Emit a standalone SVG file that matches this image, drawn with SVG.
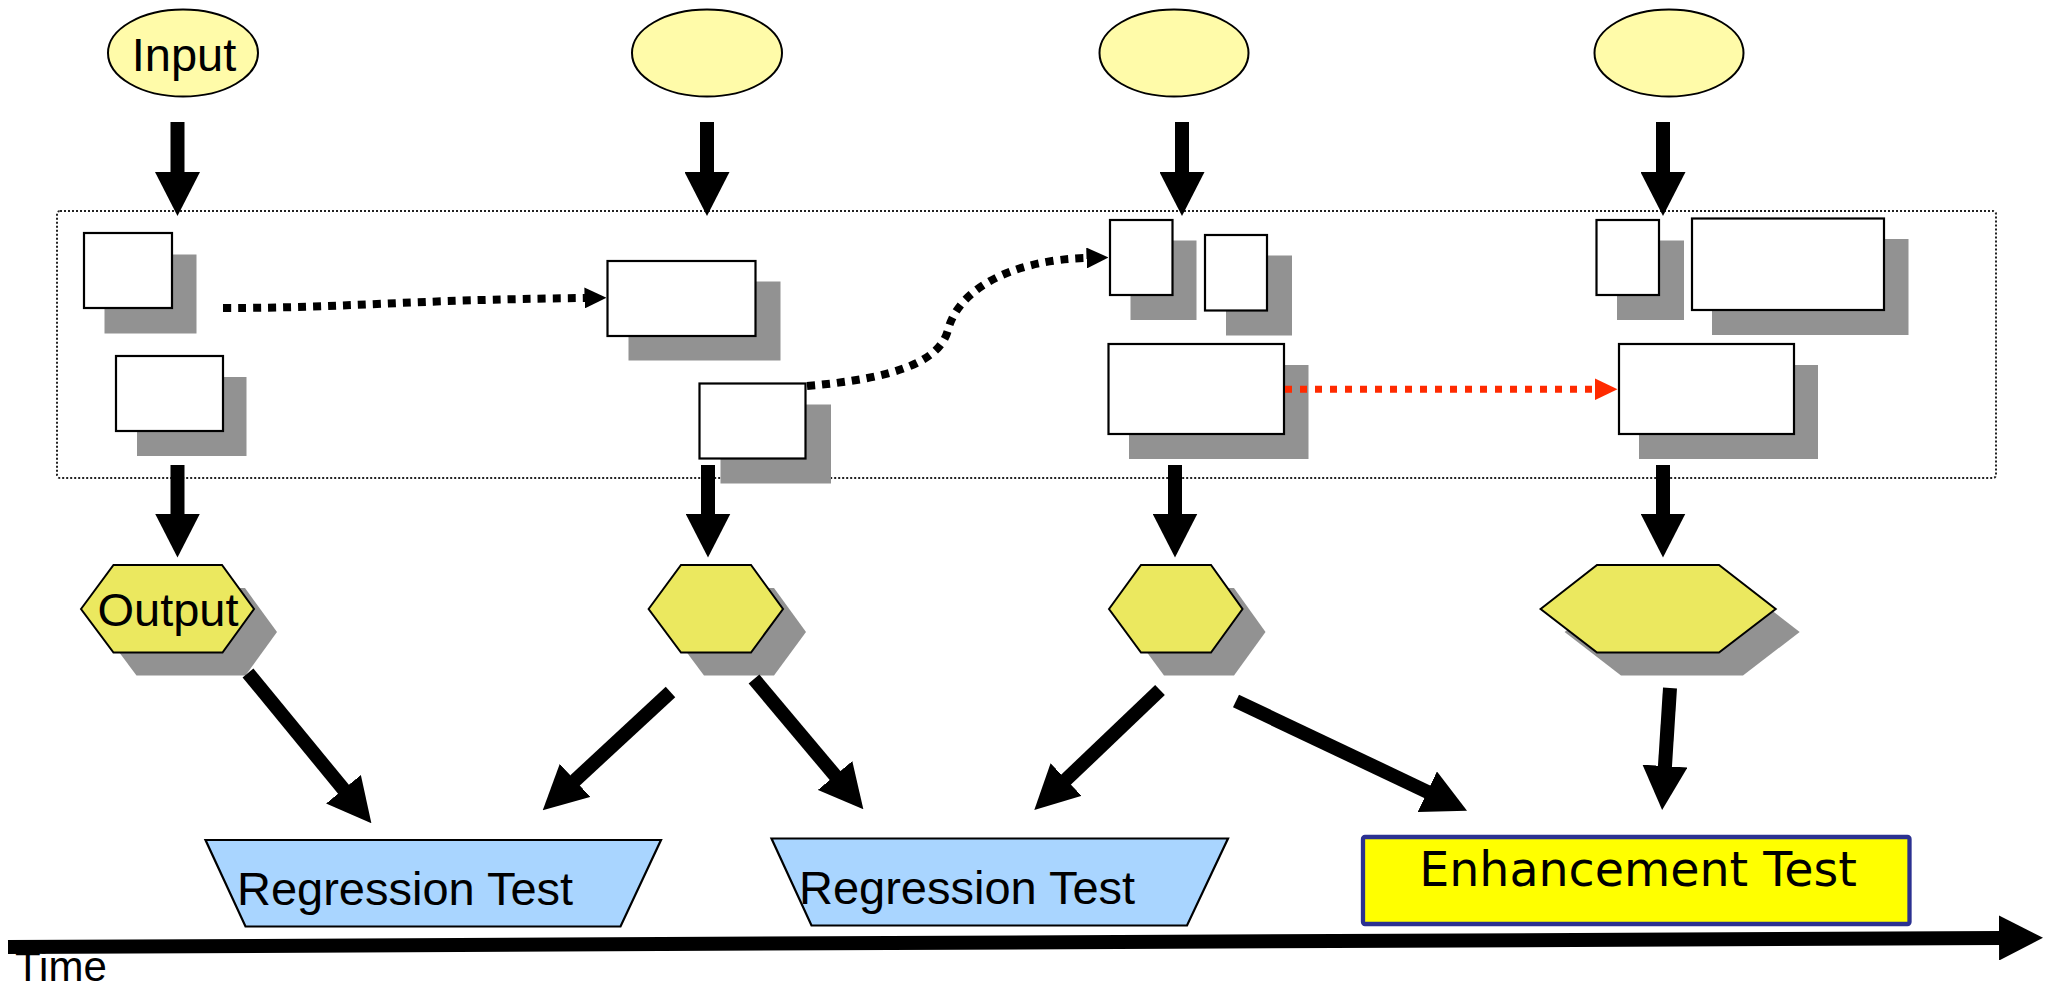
<svg xmlns="http://www.w3.org/2000/svg" width="2053" height="990" viewBox="0 0 2053 990">
<defs>
<style>
.ell{fill:#fffba9;stroke:#000;stroke-width:2}
.box{fill:#fff;stroke:#000;stroke-width:2.2}
.sh{fill:#929292}
.hex{fill:#ebe85f;stroke:#000;stroke-width:2}
.trap{fill:#a9d5ff;stroke:#000;stroke-width:2.2}
.thick{fill:none;stroke:#000;stroke-width:14;stroke-linecap:butt;marker-end:url(#big)}
.dot{fill:none;stroke:#000;stroke-width:8;stroke-dasharray:8 7;marker-end:url(#small)}
.reddot{fill:none;stroke:#ff2a00;stroke-width:7;stroke-dasharray:7 8;marker-end:url(#smallred)}
.lbl{font-family:"Liberation Sans",Arial,sans-serif;font-size:47px;fill:#000}
</style>
<marker id="big" markerUnits="userSpaceOnUse" viewBox="0 0 44 45" markerWidth="44" markerHeight="45" refX="1" refY="22.5" orient="auto"><path d="M0,0 L44,22.5 L0,45 Z" fill="#000"/></marker>
<marker id="small" markerUnits="userSpaceOnUse" viewBox="0 0 22 21" markerWidth="22" markerHeight="21" refX="0.5" refY="10.5" orient="auto"><path d="M0,0 L22,10.5 L0,21 Z" fill="#000"/></marker>
<marker id="smallred" markerUnits="userSpaceOnUse" viewBox="0 0 23 22" markerWidth="23" markerHeight="22" refX="0.5" refY="11" orient="auto"><path d="M0,0 L23,11 L0,22 Z" fill="#ff2a00"/></marker>
</defs>
<rect width="2053" height="990" fill="#fff"/>

<g id="frame">
<rect x="57" y="211" width="1939" height="267" rx="3" fill="none" stroke="#222" stroke-width="2" stroke-dasharray="2 2"/>
</g>

<g id="input1"><ellipse class="ell" cx="183" cy="53" rx="75" ry="43.5"/><text class="lbl" x="184" y="71" text-anchor="middle">Input</text></g>
<g id="input2"><ellipse class="ell" cx="707" cy="53" rx="75" ry="43.5"/></g>
<g id="input3"><ellipse class="ell" cx="1174" cy="53" rx="74.5" ry="43.5"/></g>
<g id="input4"><ellipse class="ell" cx="1669" cy="53" rx="74.5" ry="43.5"/></g>

<g id="boxA"><rect class="sh" x="104.5" y="254.5" width="92" height="79"/><rect class="box" x="84" y="233" width="88" height="75"/></g>
<g id="boxB"><rect class="sh" x="137" y="377" width="109.5" height="79"/><rect class="box" x="116" y="356" width="107" height="75"/></g>
<g id="boxC"><rect class="sh" x="628.5" y="281.5" width="152" height="79"/><rect class="box" x="607.5" y="261" width="148" height="75"/></g>
<g id="boxD"><rect class="sh" x="720.5" y="404.5" width="110.5" height="79"/><rect class="box" x="699.5" y="383.5" width="106" height="75"/></g>
<g id="boxE"><rect class="sh" x="1130.5" y="240.5" width="66" height="79.5"/><rect class="box" x="1110" y="220" width="62.5" height="75"/></g>
<g id="boxF"><rect class="sh" x="1226" y="255.5" width="66" height="80"/><rect class="box" x="1205" y="235" width="62" height="75.5"/></g>
<g id="boxG"><rect class="sh" x="1129" y="365" width="179.5" height="94"/><rect class="box" x="1108.5" y="344" width="175.5" height="90"/></g>
<g id="boxH"><rect class="sh" x="1617" y="240.5" width="67" height="79.5"/><rect class="box" x="1596.5" y="220" width="62.5" height="75"/></g>
<g id="boxI"><rect class="sh" x="1712" y="239" width="196.5" height="96"/><rect class="box" x="1692" y="218.5" width="192" height="91.5"/></g>
<g id="boxJ"><rect class="sh" x="1639" y="365" width="179" height="94"/><rect class="box" x="1619" y="344" width="175" height="90"/></g>

<g id="output1"><polygon class="sh" points="104,632 136.5,588 245,588 277,632 245.5,675.5 136.5,675.5"/><polygon class="hex" points="81,609 113.5,565 222,565 254,609 222.5,652.5 113.5,652.5"/><text class="lbl" x="168" y="626" text-anchor="middle">Output</text></g>
<g id="output2"><polygon class="sh" points="671.6,632 704,588 774,588 806,632 774,675.5 704,675.5"/><polygon class="hex" points="648.6,609 681,565 751,565 783,609 751,652.5 681,652.5"/></g>
<g id="output3"><polygon class="sh" points="1132,632 1164,588 1234,588 1265.5,632 1234,675.5 1164,675.5"/><polygon class="hex" points="1109,609 1141,565 1211,565 1242.5,609 1211,652.5 1141,652.5"/></g>
<g id="output4"><polygon class="sh" points="1564.6,632 1621,588 1743,588 1799.7,632 1743,675.5 1621,675.5"/><polygon class="hex" points="1540.6,609 1597,565 1719,565 1775.7,609 1719,652.5 1597,652.5"/></g>

<g id="regression1"><polygon class="trap" points="205.5,840 661,840 620.5,926.5 245.5,926.5"/><text class="lbl" x="237" y="905">Regression Test</text></g>
<g id="regression2"><polygon class="trap" points="771.5,838.5 1228,838.5 1187,925.5 811.5,925.5"/><text class="lbl" x="799" y="904">Regression Test</text></g>
<g id="enhancement"><rect x="1363" y="837" width="546.5" height="87" rx="2" fill="#ffff00" stroke="#2b3191" stroke-width="4.3"/><text x="1638" y="886" text-anchor="middle" font-family="'DejaVu Sans',Verdana,sans-serif" font-size="47.5" fill="#000">Enhancement Test</text></g>

<g id="time"><text class="lbl" x="15" y="981" style="font-size:42px">Time</text></g>

<g id="connectors">
<line class="thick" x1="177.5" y1="122" x2="177.5" y2="173"/>
<line class="thick" x1="707" y1="122" x2="707" y2="173"/>
<line class="thick" x1="1182" y1="122" x2="1182" y2="173"/>
<line class="thick" x1="1663" y1="122" x2="1663" y2="173"/>
<line class="thick" x1="177.5" y1="465" x2="177.5" y2="514.5"/>
<line class="thick" x1="708" y1="465" x2="708" y2="514.5"/>
<line class="thick" x1="1175" y1="465" x2="1175" y2="514.5"/>
<line class="thick" x1="1663" y1="465" x2="1663" y2="514.5"/>
<line class="thick" x1="248" y1="673" x2="344.1" y2="790"/>
<line class="thick" x1="670.5" y1="692" x2="574.3" y2="781.1"/>
<line class="thick" x1="754" y1="679" x2="835.7" y2="776.3"/>
<line class="thick" x1="1160" y1="690" x2="1065.4" y2="780.3"/>
<line class="thick" x1="1236" y1="701" x2="1428.2" y2="792.2"/>
<line class="thick" x1="1670" y1="688" x2="1664.9" y2="767.1"/>
<path class="dot" d="M223,308 C350,308 400,300 585,298"/>
<path class="dot" d="M807,386 C900,378 940,360 948,330 C958,290 1010,260 1087,258"/>
<path class="reddot" d="M1285,389.3 L1595,389.3"/>
<line class="thick" x1="8" y1="947" x2="2000" y2="938"/>
</g>
</svg>
